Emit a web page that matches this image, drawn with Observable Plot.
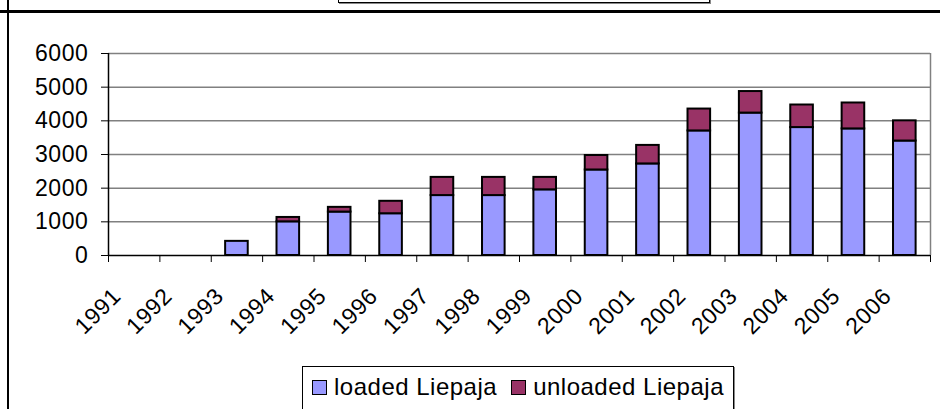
<!DOCTYPE html>
<html>
<head>
<meta charset="utf-8">
<script src="https://cdn.jsdelivr.net/npm/d3@7"></script>
<script src="https://cdn.jsdelivr.net/npm/@observablehq/plot@0.6"></script>
<style>
  body { margin: 0; background: #fff; }
  #wrap { position: relative; width: 940px; height: 409px; overflow: hidden; background: #fff; font-family: "Liberation Sans", Arial, sans-serif; }
  #titlebox { position: absolute; left: 338px; top: -20px; width: 370px; height: 21px; border: 1px solid #000; box-shadow: 1px 1px 0 #888; background: #fff; }
  #vline { position: absolute; left: 7px; top: 0; width: 2px; height: 409px; background: #000; }
  #hline { position: absolute; left: 0; top: 10px; width: 940px; height: 3px; background: #000; }
  #chart { position: absolute; left: 0; top: 0; }
  #legend { position: absolute; left: 302px; top: 366px; width: 432px; height: 60px; border: 1px solid #000; box-shadow: 1px 1px 0 #888; background: #fff; display: flex; align-items: flex-start; padding-top: 6px; box-sizing: border-box; font-size: 24px; letter-spacing: 0.5px; }
  .item { display: flex; align-items: center; margin-left: 9px; margin-right: 2px; }
  .item + .item { margin-left: 12px; }
  .sw { width: 13px; height: 13px; border: 1.5px solid #000; margin-right: 7px; }
</style>
</head>
<body>
<div id="wrap">
  <div id="chart"></div>
  <div id="vline"></div>
  <div id="hline"></div>
  <div id="titlebox"></div>
  <div id="legend"></div>
</div>
<script>
const years = [1991, 1992, 1993, 1994, 1995, 1996, 1997, 1998, 1999, 2000, 2001, 2002, 2003, 2004, 2005, 2006];
const loaded = [0, 0, 420, 1000, 1290, 1240, 1780, 1780, 1950, 2540, 2720, 3700, 4230, 3800, 3760, 3400];
const unloaded = [0, 0, 0, 130, 140, 370, 540, 540, 370, 430, 550, 650, 640, 670, 770, 600];
const seriesNames = ["loaded Liepaja", "unloaded Liepaja"];
const seriesColors = ["#9999FF", "#993366"];
const yTicks = [0, 1000, 2000, 3000, 4000, 5000, 6000];

const half = 0.22;
const rows = [];
years.forEach((yr, i) => {
  rows.push({year: yr, series: seriesNames[0], y1: 0, y2: loaded[i]});
  rows.push({year: yr, series: seriesNames[1], y1: loaded[i], y2: loaded[i] + unloaded[i]});
});
const bars = rows.filter(d => d.y2 > d.y1);
const bounds = years.map(y => y - 0.5).concat([years[years.length - 1] + 0.5]);

const chart = Plot.plot({
  width: 940,
  height: 366,
  marginLeft: 108,
  marginRight: 10,
  marginTop: 53,
  marginBottom: 111,
  style: {fontSize: "23px", fontFamily: "'Liberation Sans', Arial, sans-serif", background: "transparent", color: "#000", letterSpacing: "0.6px"},
  x: {type: "linear", domain: [bounds[0], bounds[bounds.length - 1]]},
  y: {domain: [0, 6000]},
  color: {domain: seriesNames, range: seriesColors},
  marks: [
    Plot.ruleY(yTicks.filter(v => v > 0), {stroke: "#808080", strokeWidth: 1.5}),
    Plot.ruleX([bounds[bounds.length - 1]], {stroke: "#808080", strokeWidth: 1.5}),
    Plot.rectY(bars, {x1: d => d.year - half, x2: d => d.year + half, y1: "y1", y2: "y2", fill: "series", stroke: "#000", strokeWidth: 2}),
    Plot.ruleY([0], {stroke: "#000", strokeWidth: 1.5}),
    Plot.ruleX([bounds[0]], {stroke: "#000", strokeWidth: 1.5}),
    Plot.axisY({ticks: yTicks, tickSize: 7, tickPadding: 13, tickFormat: d => String(d), stroke: "#000"}),
    Plot.axisX({ticks: bounds, tickSize: 7, tickFormat: () => "", stroke: "#000"}),
    Plot.text(years, {x: d => d, frameAnchor: "bottom", text: d => String(d), rotate: -45, textAnchor: "end", lineAnchor: "bottom", dx: -12, dy: 42, fill: "#000"})
  ]
});
document.getElementById("chart").appendChild(chart);

const legend = document.getElementById("legend");
seriesNames.forEach((n, i) => {
  const it = document.createElement("div");
  it.className = "item";
  const sw = document.createElement("span");
  sw.className = "sw";
  sw.style.background = seriesColors[i];
  const t = document.createElement("span");
  t.textContent = n;
  it.appendChild(sw);
  it.appendChild(t);
  legend.appendChild(it);
});
</script>
</body>
</html>
